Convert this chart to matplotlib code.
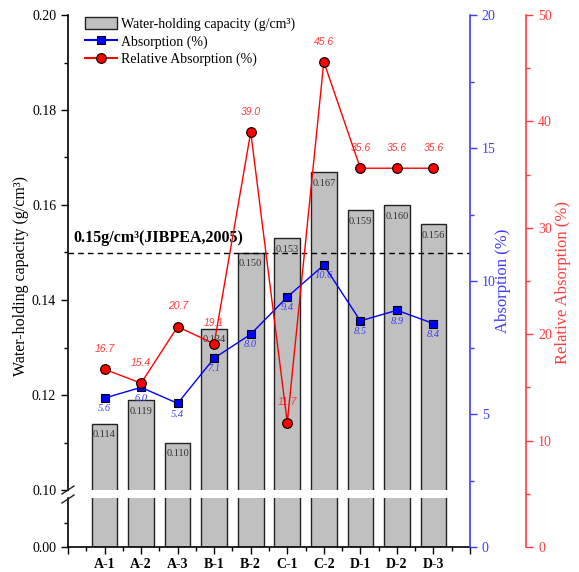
import numpy as np
import matplotlib
matplotlib.use('Agg')
import matplotlib.pyplot as plt
from matplotlib.patches import Patch
from matplotlib.lines import Line2D

plt.rcParams['font.family'] = ['Liberation Serif', 'DejaVu Serif']

samples = ['A-1', 'A-2', 'A-3', 'B-1', 'B-2', 'C-1', 'C-2', 'D-1', 'D-2', 'D-3']
capacity = [0.114, 0.119, 0.110, 0.134, 0.150, 0.153, 0.167, 0.159, 0.160, 0.156]
absorption = [5.6, 6.0, 5.4, 7.1, 8.0, 9.4, 10.6, 8.5, 8.9, 8.4]
rel_absorption = [16.7, 15.4, 20.7, 19.1, 39.0, 11.7, 45.6, 35.6, 35.6, 35.6]
standard = 0.15

BLUE = '#0000ff'
BLUE_AX = '#3c3cff'
RED = '#ff0000'
RED_AX = '#ff3c3c'
BAR = '#c0c0c0'

W, H = 579, 572
fig = plt.figure(figsize=(W / 100, H / 100), dpi=100)

left = 68 / W
width = (470 - 68) / W
y_top = 1 - 15 / H
y_brk_hi = 1 - 490 / H
y_brk_lo = 1 - 498 / H
y_bot = 1 - 547 / H

ax_top = fig.add_axes([left, y_brk_hi, width, y_top - y_brk_hi])
ax_bot = fig.add_axes([left, y_bot, width, y_brk_lo - y_bot])
ax_b = fig.add_axes([left, y_bot, width, y_top - y_bot])
ax_r = fig.add_axes([left, y_bot, width, y_top - y_bot])

x = np.arange(1, len(samples) + 1)

for ax in (ax_top, ax_bot):
    ax.bar(x, capacity, width=0.7, color=BAR, edgecolor='#222222', linewidth=1.0, zorder=2)
    ax.set_xlim(0, 11)
    ax.spines['top'].set_visible(False)
    ax.spines['right'].set_visible(False)
    ax.spines['left'].set_linewidth(1.2)
    ax.spines['bottom'].set_linewidth(1.2)
    ax.patch.set_visible(False)
    ax.tick_params(axis='y', which='major', direction='out', length=5, width=1, labelsize=10)
    ax.tick_params(axis='y', which='minor', direction='out', length=3, width=1)

ax_top.set_ylim(0.10, 0.20)
ax_top.set_yticks(np.arange(0.10, 0.201, 0.02))
ax_top.set_yticks(np.arange(0.11, 0.20, 0.02), minor=True)
ax_top.set_yticklabels(['%.2f' % v for v in np.arange(0.10, 0.201, 0.02)])
ax_top.spines['bottom'].set_visible(False)
ax_top.set_xticks([])

ax_bot.set_ylim(0, 0.10)
ax_bot.set_yticks([0.0])
ax_bot.set_yticklabels(['0.00'])
ax_bot.set_yticks([0.05], minor=True)
ax_bot.set_xticks(np.arange(0, 12))
ax_bot.set_xticklabels([''] + samples + [''], fontweight='bold', fontsize=10)
ax_bot.set_xticks(np.arange(0.5, 11, 1), minor=True)
ax_bot.tick_params(axis='x', which='major', direction='out', length=5, width=1, pad=3)
ax_bot.tick_params(axis='x', which='minor', direction='out', length=3, width=1)

# bar value labels
for xi, v in zip(x, capacity):
    ax_top.annotate('%.3f' % v, (xi, v), xytext=(0, -5), textcoords='offset points',
                    ha='center', va='top', fontsize=7.5, color='#333333', zorder=3)

# reference line
ax_top.axhline(standard, color='black', linestyle=(0, (4, 3)), linewidth=1.0, zorder=4)
ax_top.text(0.16, 0.153, '0.15g/cm³(JIBPEA,2005)', fontsize=11.5, fontweight='bold',
            ha='left', va='center', zorder=5)

# break marks
fig.add_artist(Line2D([62 / W, 74 / W], [1 - 494 / H, 1 - 486 / H], color='#222222', lw=1))
fig.add_artist(Line2D([62 / W, 74 / W], [1 - 503 / H, 1 - 495 / H], color='#222222', lw=1))

fig.text(21 / W, 1 - 276 / H, 'Water-holding capacity (g/cm³)', rotation=90,
         ha='center', va='center', fontsize=11.5)

# absorption axes
for ax in (ax_b, ax_r):
    ax.patch.set_visible(False)
    ax.set_xlim(0, 11)
    ax.set_xticks([])
    for s in ('top', 'left', 'bottom'):
        ax.spines[s].set_visible(False)
    ax.yaxis.tick_right()
    ax.yaxis.set_label_position('right')

ax_b.spines['right'].set_color(BLUE_AX)
ax_b.spines['right'].set_linewidth(1.2)
ax_b.set_ylim(0, 20)
ax_b.set_yticks([0, 5, 10, 15, 20])
ax_b.set_yticks([2.5, 7.5, 12.5, 17.5], minor=True)
ax_b.tick_params(axis='y', which='major', colors=BLUE_AX, length=5, width=1, labelsize=10)
ax_b.tick_params(axis='y', which='minor', colors=BLUE_AX, length=3, width=1)
ax_b.plot(x, absorption, color=BLUE, lw=1.0, marker='s', markersize=6,
          markerfacecolor=BLUE, markeredgecolor='black', markeredgewidth=0.8, zorder=5)
for xi, v in zip(x, absorption):
    ax_b.annotate('%.1f' % v, (xi, v), xytext=(0, -4.5), textcoords='offset points',
                  ha='center', va='top', fontsize=7.5, style='italic', color=BLUE_AX)
fig.text(503 / W, 1 - 281 / H, 'Absorption (%)', rotation=90, ha='center', va='center',
         fontsize=12, color=BLUE_AX)

ax_r.spines['right'].set_position(('axes', 1.14))
ax_r.spines['right'].set_color(RED_AX)
ax_r.spines['right'].set_linewidth(1.2)
ax_r.set_ylim(0, 50)
ax_r.set_yticks([0, 10, 20, 30, 40, 50])
ax_r.set_yticks([5, 15, 25, 35, 45], minor=True)
ax_r.tick_params(axis='y', which='major', colors=RED_AX, length=5, width=1, labelsize=10)
ax_r.tick_params(axis='y', which='minor', colors=RED_AX, length=3, width=1)
ax_r.plot(x, rel_absorption, color=RED, lw=1.0, marker='o', markersize=7,
          markerfacecolor=RED, markeredgecolor='black', markeredgewidth=0.8, zorder=5)
for xi, v in zip(x, rel_absorption):
    ax_r.annotate('%.1f' % v, (xi, v), xytext=(0, 11), textcoords='offset points',
                  ha='center', va='bottom', fontsize=7.5, style='italic', color=RED_AX,
                  family=['Liberation Sans', 'DejaVu Sans'])
fig.text(563 / W, 1 - 282 / H, 'Relative Absorption (%)', rotation=90, ha='center',
         va='center', fontsize=12, color=RED_AX)

handles = [
    Patch(facecolor=BAR, edgecolor='#222222', linewidth=1.0, label='Water-holding capacity (g/cm³)'),
    Line2D([0], [0], color=BLUE, marker='s', markersize=6, markerfacecolor=BLUE,
           markeredgecolor='black', markeredgewidth=0.8, label='Absorption (%)'),
    Line2D([0], [0], color=RED, marker='o', markersize=7, markerfacecolor=RED,
           markeredgecolor='black', markeredgewidth=0.8, label='Relative Absorption (%)'),
]
ax_r.legend(handles=handles, loc='upper left', bbox_to_anchor=(85 / W, 1 - 17 / H),
            bbox_transform=fig.transFigure, frameon=False, fontsize=10, borderpad=0,
            handlelength=2.3, handleheight=1.0, handletextpad=0.3, labelspacing=0.25,
            borderaxespad=0)

fig.savefig('out.png', dpi=100)
